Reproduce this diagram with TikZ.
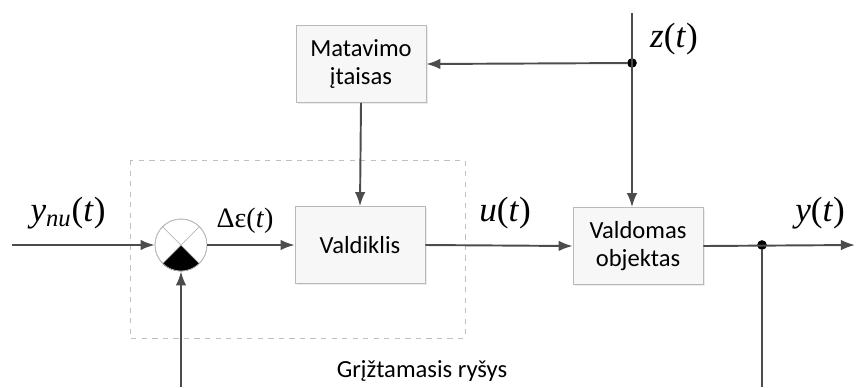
\documentclass[tikz,border=0pt]{standalone}
\usepackage{fontspec}
\setmainfont{Carlito}
\newfontfamily\tnr{Liberation Serif}
\usetikzlibrary{arrows.meta,positioning,shadows}

\begin{document}
\begin{tikzpicture}[x=0.02cm,y=-0.02cm,
	blokas/.style={draw=gray!55, fill=gray!6, minimum width=2.6cm, minimum height=1.54cm, align=center,
		font=\fontsize{14}{16}\selectfont, drop shadow={opacity=0.15, shadow xshift=1pt, shadow yshift=-1pt}},
	linija/.style={draw=black!70, line width=1.1pt},
	rodykle/.style={linija, -{Latex[length=8pt,width=6pt]}},
	zyme/.style={font=\tnr\fontsize{20}{22}\selectfont},
	taskas/.style={circle, fill=black, inner sep=0pt, minimum size=5.5pt}]

\useasboundingbox (0,0) rectangle (856,387);

%Reguliatoriaus ribos
\draw[dashed, gray!50] (130,160) rectangle (465,338);

%Blokai
\node[blokas] (matavimo) at (361,64) {Matavimo\\įtaisas};
\node[blokas] (valdiklis) at (360,245) {Valdiklis};
\node[blokas] (valdomas) at (638,246) {Valdomas\\objektas};

%Sumatorius
\node[circle, draw=gray!55, fill=white, minimum size=1.04cm, inner sep=0pt] (sum) at (181,245) {};
\fill[black] (sum.center) -- (sum.225) arc[start angle=225, end angle=315, radius=0.52cm] -- cycle;
\draw[gray!55] (sum.45) -- (sum.225) (sum.135) -- (sum.315);
\draw[gray!55] (sum) circle (0.52cm);

%Taskai
\coordinate (vhod) at (12,245);
\coordinate (isejimas) at (855,245);
\coordinate (zvirsus) at (632,13);
\node[taskas] (mazgas1) at (632,63) {};
\node[taskas] (mazgas2) at (762,245) {};
\coordinate (apacia1) at (181,387);
\coordinate (apacia2) at (762,387);

%Jungtys
\draw[rodykle] (vhod) -- (sum.west);
\draw[rodykle] (sum.east) -- (valdiklis.west);
\draw[rodykle] (valdiklis.east) -- (valdomas.west);
\draw[rodykle] (valdomas.east) -- (isejimas);
\draw[rodykle] (zvirsus) -- (mazgas1 |- valdomas.north);
\draw[rodykle] (mazgas1) -- (matavimo.east);
\draw[rodykle] (matavimo.south) -- (valdiklis.north);
\draw[linija] (mazgas2) -- (apacia2);
\draw[rodykle] (apacia1) -- (sum.south);

%Signalai
\node[zyme] (ynu) at (68,213) {\textit{y}\textsubscript{\textit{nu}}(\textit{t})};
\node[zyme] (deltae) at (245,221) {\fontsize{16}{18}\selectfont Δε(\textit{t})};
\node[zyme] (u) at (505,213) {\textit{u}(\textit{t})};
\node[zyme] (y) at (820,213) {\textit{y}(\textit{t})};
\node[zyme] (z) at (674,39) {\textit{z}(\textit{t})};

\node[font=\fontsize{14}{16}\selectfont] (griztamasis) at (422,371) {Grįžtamasis ryšys};

\end{tikzpicture}
\end{document}
